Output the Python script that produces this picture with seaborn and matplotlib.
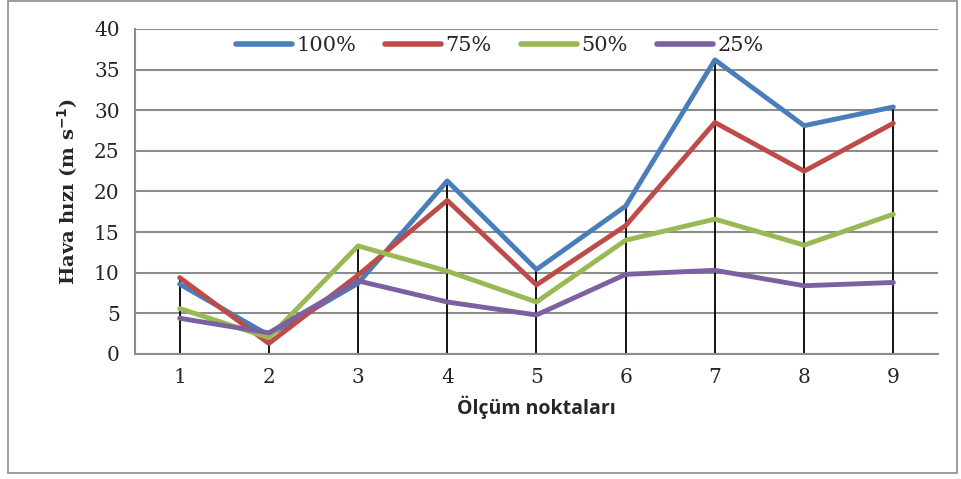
import numpy as np
import pandas as pd
import matplotlib
matplotlib.use("Agg")
import matplotlib.pyplot as plt
from matplotlib.patches import Rectangle
import seaborn as sns

# measurement points and wind speed per fan setting
points = [1, 2, 3, 4, 5, 6, 7, 8, 9]
series_names = ["100%", "75%", "50%", "25%"]
v100 = [8.6, 2.3, 8.7, 21.3, 10.4, 18.2, 36.2, 28.1, 30.4]
v75 = [9.4, 1.3, 9.7, 18.9, 8.5, 15.8, 28.5, 22.5, 28.4]
v50 = [5.6, 2.0, 13.3, 10.2, 6.4, 14.0, 16.6, 13.4, 17.2]
v25 = [4.4, 2.6, 9.0, 6.4, 4.8, 9.8, 10.3, 8.4, 8.8]
yticks = [0, 5, 10, 15, 20, 25, 30, 35, 40]

colors = ["#4A7EBB", "#BE4B48", "#98B954", "#7D60A0"]

sns.set_style("white")
plt.rcParams["font.family"] = ["DejaVu Serif"]

df = pd.DataFrame({
    "x": points * 4,
    "y": v100 + v75 + v50 + v25,
    "seri": [n for n in series_names for _ in points],
})

fig = plt.figure(figsize=(9.61, 4.79), dpi=100)
ax = fig.add_axes([0.1405, 0.261, 0.8355, 0.6785])

# high-low lines from zero to the top value at each point
tops = np.max(np.array([v100, v75, v50, v25]), axis=0)
ax.vlines(points, 0, tops, color="black", lw=1.3, zorder=1)

sns.lineplot(data=df, x="x", y="y", hue="seri", hue_order=series_names,
             palette=colors, lw=3.5, ax=ax, zorder=3, legend=False,
             solid_capstyle="round")

ax.set_xlim(0.5, 9.5)
ax.set_ylim(0, 40)
ax.set_yticks(yticks)
ax.set_xticks(points)
ax.yaxis.grid(True, color="#8c8c8c", lw=1.5)
ax.set_axisbelow(True)
for s in ["top", "right"]:
    ax.spines[s].set_visible(False)
for s in ["left", "bottom"]:
    ax.spines[s].set_color("#8c8c8c")
    ax.spines[s].set_linewidth(1.5)
ax.tick_params(axis="y", length=6, width=1.5, color="#8c8c8c", labelsize=14.5, pad=5)
ax.tick_params(axis="x", length=0, labelsize=14.5, pad=10)

ax.set_xlabel("Ölçüm noktaları", family=["Open Sans", "DejaVu Sans"],
              fontweight="bold", fontsize=14, labelpad=6)
ax.set_ylabel("Hava hızı (m s$^{\\mathbf{-1}}$)", fontweight="bold", fontsize=14, labelpad=10)

handles = [plt.Line2D([], [], color=c, lw=4, solid_capstyle="round") for c in colors]
fig.legend(handles, series_names, loc="center", bbox_to_anchor=(0.52, 0.905), ncol=4,
           frameon=False, fontsize=15, handlelength=2.7, handletextpad=0.2,
           columnspacing=1.4)

fig.patches.append(Rectangle((0.008, 0.012), 0.988, 0.986, transform=fig.transFigure,
                             fill=False, edgecolor="#8c8c8c", lw=1.2))

fig.savefig("out.png", dpi=100)
